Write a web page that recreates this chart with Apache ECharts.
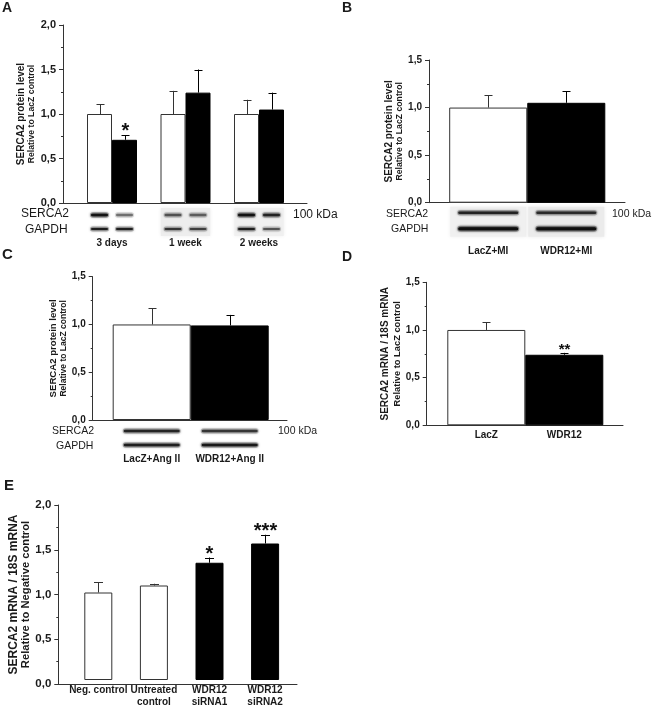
<!DOCTYPE html>
<html><head><meta charset="utf-8">
<script src="https://cdn.jsdelivr.net/npm/echarts@6/dist/echarts.min.js"></script>
<style>html,body{margin:0;padding:0;background:#fff}#c{width:653px;height:708px}</style>
</head><body><div id="c"></div>
<script>
// ---------------- DATA ----------------
// Panel A: SERCA2 protein, 3 days / 1 week / 2 weeks
const aCategories = ['3 days', '1 week', '2 weeks'];
const aLacZ = [1.00, 1.00, 1.00];
const aLacZErr = [0.11, 0.26, 0.16];
const aWDR12 = [0.71, 1.24, 1.05];
const aWDR12Err = [0.05, 0.26, 0.19];
const aWDR12Sig = ['*', '', ''];
const aTicks = [0, 0.5, 1.0, 1.5, 2.0];
const aTickLabels = ['0,0', '0,5', '1,0', '1,5', '2,0'];
// western blot band intensities [lane LacZ, lane WDR12] per category
const aBlotSerca = [[0.95, 0.45], [0.55, 0.5], [0.95, 0.8]];
const aBlotGapdh = [[0.85, 0.85], [0.7, 0.65], [0.85, 0.55]];
const aBlotBg = [0.0, 0.07, 0.06];

// Panel B: LacZ+MI vs WDR12+MI
const bCategories = ['LacZ+MI', 'WDR12+MI'];
const bValues = [1.00, 1.05];
const bErr = [0.13, 0.12];
const bSig = ['', ''];
const bTicks = [0, 0.5, 1.0, 1.5];
const bTickLabels = ['0,0', '0,5', '1,0', '1,5'];
const bBlotSerca = [[0.8], [0.75]];
const bBlotGapdh = [[1.0], [1.0]];
const bBlotBg = [0.06, 0.08];

// Panel C: LacZ+Ang II vs WDR12+Ang II
const cCategories = ['LacZ+Ang II', 'WDR12+Ang II'];
const cValues = [1.00, 0.99];
const cErr = [0.17, 0.11];
const cSig = ['', ''];
const cTicks = [0, 0.5, 1.0, 1.5];
const cTickLabels = ['0,0', '0,5', '1,0', '1,5'];
const cBlotSerca = [[0.8], [0.7]];
const cBlotGapdh = [[0.85], [0.9]];
const cBlotBg = [0.0, 0.0];

// Panel D: SERCA2 mRNA LacZ vs WDR12
const dCategories = ['LacZ', 'WDR12'];
const dValues = [1.00, 0.74];
const dErr = [0.08, 0.02];
const dSig = ['', '**'];
const dTicks = [0, 0.5, 1.0, 1.5];
const dTickLabels = ['0,0', '0,5', '1,0', '1,5'];

// Panel E: siRNA knock-down
const eCategories = ['Neg. control', 'Untreated\ncontrol', 'WDR12\nsiRNA1', 'WDR12\nsiRNA2'];
const eValues = [1.00, 1.08, 1.34, 1.56];
const eErr = [0.12, 0.02, 0.06, 0.10];
const eSig = ['', '', '*', '***'];
const eIsKnockdown = [false, false, true, true];
const eTicks = [0, 0.5, 1.0, 1.5, 2.0];
const eTickLabels = ['0,0', '0,5', '1,0', '1,5', '2,0'];

// ---------------- STYLE / LAYOUT ----------------
const FONT = '"Liberation Sans", Arial, Helvetica, sans-serif';
const AX = '#333';
const TXT = '#1a1a1a';
const WHITE = {color: '#ffffff', borderColor: AX, borderWidth: 1};
const BLACK = {color: '#000000', borderColor: '#000000', borderWidth: 1};

const grid = [], xAxis = [], yAxis = [], series = [], graphic = [];

function addPanel(p) {
  const fi = grid.length, di = fi + 1;
  const h = p.bottom - p.top;
  const tmin = p.ticks[0], tmax = p.ticks[p.ticks.length - 1];
  grid.push({left: p.axisX, top: p.top, width: p.axisEnd - p.axisX, height: h});
  grid.push({left: p.dataL, top: p.top, width: p.dataR - p.dataL, height: h});
  xAxis.push({gridIndex: fi, type: 'value', min: 0, max: 1,
    axisLine: {show: true, onZero: false, lineStyle: {color: AX, width: 1}},
    axisTick: {show: false}, axisLabel: {show: false}, splitLine: {show: false}});
  yAxis.push({gridIndex: fi, type: 'value', min: tmin, max: tmax, interval: p.ticks[1] - p.ticks[0],
    axisLine: {show: true, lineStyle: {color: AX, width: 1}},
    axisTick: {show: true, length: 4, lineStyle: {color: AX, width: 1}},
    minorTick: {show: true, splitNumber: 2, length: 2, lineStyle: {color: AX, width: 1}},
    splitLine: {show: false}, minorSplitLine: {show: false},
    axisLabel: {margin: p.tickMargin, fontFamily: FONT, fontWeight: 'bold', fontSize: p.tickFont, color: TXT,
      formatter: v => { const i = p.ticks.findIndex(t => Math.abs(t - v) < 1e-9); return i >= 0 ? p.tickLabels[i] : ''; }},
    name: '{a|' + p.yName[0] + '}\n{b|' + p.yName[1] + '}',
    nameLocation: 'middle', nameRotate: 90, nameGap: p.nameGap,
    nameTextStyle: {fontFamily: FONT, rich: {
      a: {fontFamily: FONT, fontWeight: 'bold', fontSize: p.nameFont[0], lineHeight: p.nameLH[0], color: TXT},
      b: {fontFamily: FONT, fontWeight: 'bold', fontSize: p.nameFont[1], lineHeight: p.nameLH[1], color: TXT}}}
  });
  xAxis.push({gridIndex: di, type: 'category', data: p.categories,
    axisLine: {show: false}, axisTick: {show: false}, splitLine: {show: false},
    axisLabel: {interval: 0, margin: p.catMargin, fontFamily: FONT, fontWeight: 'bold', fontSize: p.catFont,
      lineHeight: p.catLH, color: TXT}});
  yAxis.push({gridIndex: di, type: 'value', min: tmin, max: tmax, show: false});
  return di;
}

function addBars(di, name, values, styleFn, barOpts) {
  series.push(Object.assign({
    type: 'bar', name: name, xAxisIndex: di, yAxisIndex: di, silent: true, z: 2,
    data: values.map((v, i) => ({value: v, itemStyle: styleFn(i)}))
  }, barOpts));
}

function addErrors(di, values, errs, sigs, cfg) {
  series.push({
    type: 'custom', xAxisIndex: di, yAxisIndex: di, silent: true, z: 4, clip: false,
    data: values.map((v, i) => [i, v, errs[i]]),
    renderItem: (params, api) => {
      const i = params.dataIndex;
      const x = api.value(0), v = api.value(1), e = api.value(2);
      const b = api.coord([x, v]), t = api.coord([x, v + e]);
      const cx = Math.round(b[0] + cfg.offset) + 0.5;
      const col = cfg.color(i);
      const children = [
        {type: 'line', shape: {x1: cx, y1: b[1], x2: cx, y2: t[1]}, style: {stroke: col, lineWidth: 1}},
        {type: 'line', shape: {x1: cx - cfg.cap / 2, y1: Math.round(t[1]) + 0.5, x2: cx + cfg.cap / 2, y2: Math.round(t[1]) + 0.5},
          style: {stroke: col, lineWidth: 1}}
      ];
      const s = sigs ? sigs[i] : '';
      if (s) {
        children.push({type: 'text', style: {text: s, x: cx, y: t[1] - cfg.starGap, align: 'center', verticalAlign: 'middle',
          fontFamily: FONT, fontWeight: 'bold', fontSize: cfg.starFont, fill: '#111'}});
      }
      return {type: 'group', children: children};
    }
  });
}

function addBlots(di, serca, gapdh, bg, cfg) {
  // membrane background per category
  series.push({
    type: 'custom', xAxisIndex: di, yAxisIndex: di, silent: true, z: 1, clip: false,
    data: bg.map((s, i) => [i, s]),
    renderItem: (params, api) => {
      const s = api.value(1);
      const c = api.coord([api.value(0), 0]);
      const w = api.size([1, 0])[0] * cfg.bgFrac;
      if (s <= 0) return {type: 'group', children: []};
      const g = Math.round(255 - 255 * s);
      const col = 'rgb(' + g + ',' + g + ',' + g + ')';
      return {type: 'rect', shape: {x: c[0] - w / 2 + 1, y: c[1] + cfg.bgTop, width: w - 2, height: cfg.bgH},
        style: {fill: col, shadowBlur: 4, shadowColor: col}};
    }
  });
  const items = [];
  serca.forEach((lanes, ci) => lanes.forEach((I, li) => items.push([ci, li, I, 0])));
  gapdh.forEach((lanes, ci) => lanes.forEach((I, li) => items.push([ci, li, I, 1])));
  series.push({
    type: 'custom', xAxisIndex: di, yAxisIndex: di, silent: true, z: 2, clip: false,
    data: items,
    renderItem: (params, api) => {
      const ci = api.value(0), li = api.value(1), I = api.value(2), row = api.value(3);
      const c = api.coord([ci, 0]);
      const cx = c[0] + cfg.laneOffsets[li];
      const cy = c[1] + cfg.rowY[row];
      const w = cfg.bandW, hh = cfg.bandH[row];
      const col = 'rgba(15,15,15,' + I + ')';
      const halo = 'rgba(40,40,40,' + (I * 0.35) + ')';
      return {type: 'group', children: [
        {type: 'rect', shape: {x: cx - w / 2 - 1, y: cy - hh / 2 - 1.5, width: w + 2, height: hh + 3, r: (hh + 3) / 2},
          style: {fill: halo, shadowBlur: 3, shadowColor: halo}},
        {type: 'rect', shape: {x: cx - w / 2, y: cy - hh / 2, width: w, height: hh, r: hh / 2},
          style: {fill: col, shadowBlur: cfg.blur, shadowColor: col}}
      ]};
    }
  });
}

function txt(text, x, y, size, weight, align) {
  graphic.push({type: 'text', x: x, y: y, silent: true,
    style: {text: text, fontFamily: FONT, fontSize: size, fontWeight: weight || 'normal', fill: TXT,
      align: align || 'left', verticalAlign: 'middle'}});
}

// ---------- Panel A ----------
const aDi = addPanel({axisX: 63, axisEnd: 307, top: 25, bottom: 203, dataL: 75.25, dataR: 295.75,
  ticks: aTicks, tickLabels: aTickLabels, tickFont: 11, tickMargin: 7,
  yName: ['SERCA2 protein level', 'Relative to LacZ control'], nameFont: [10, 8.7], nameLH: [11, 10], nameGap: 26,
  categories: aCategories, catMargin: 35, catFont: 10, catLH: 11});
addBars(aDi, 'LacZ', aLacZ, () => WHITE, {barWidth: 25, barGap: '0%'});
addBars(aDi, 'WDR12', aWDR12, () => BLACK, {barWidth: 25, barGap: '0%'});
addErrors(aDi, aLacZ, aLacZErr, null, {offset: -12.5, cap: 8, color: () => AX});
addErrors(aDi, aWDR12, aWDR12Err, aWDR12Sig, {offset: 12.5, cap: 8, color: () => '#000', starGap: 4, starFont: 20});
addBlots(aDi, aBlotSerca, aBlotGapdh, aBlotBg, {laneOffsets: [-12.5, 12.5], rowY: [12, 26], bandW: 17, bandH: [2.5, 2],
  blur: 3, bgFrac: 0.7, bgTop: 5, bgH: 28});

// ---------- Panel B ----------
const bDi = addPanel({axisX: 429, axisEnd: 625, top: 60, bottom: 202.7, dataL: 449.2, dataR: 605.3,
  ticks: bTicks, tickLabels: bTickLabels, tickFont: 10, tickMargin: 7,
  yName: ['SERCA2 protein level', 'Relative to LacZ control'], nameFont: [10, 8.7], nameLH: [11, 10], nameGap: 22,
  categories: bCategories, catMargin: 43, catFont: 10, catLH: 11});
addBars(bDi, 'MI', bValues, i => (i === 0 ? WHITE : BLACK), {barCategoryGap: '0%'});
addErrors(bDi, bValues, bErr, bSig, {offset: 0, cap: 8, color: i => (i === 0 ? AX : '#000'), starGap: 4, starFont: 15});
addBlots(bDi, bBlotSerca, bBlotGapdh, bBlotBg, {laneOffsets: [0], rowY: [10, 26], bandW: 60, bandH: [2.5, 3],
  blur: 3, bgFrac: 1.0, bgTop: 4, bgH: 30});

// ---------- Panel C ----------
const cDi = addPanel({axisX: 92.7, axisEnd: 287, top: 276.7, bottom: 420, dataL: 112.7, dataR: 268.7,
  ticks: cTicks, tickLabels: cTickLabels, tickFont: 10, tickMargin: 7,
  yName: ['SERCA2 protein level', 'Relative to LacZ control'], nameFont: [9.6, 8.5], nameLH: [11, 10], nameGap: 19,
  categories: cCategories, catMargin: 34, catFont: 10, catLH: 11});
addBars(cDi, 'AngII', cValues, i => (i === 0 ? WHITE : BLACK), {barCategoryGap: '0%'});
addErrors(cDi, cValues, cErr, cSig, {offset: 0, cap: 8, color: i => (i === 0 ? AX : '#000'), starGap: 4, starFont: 15});
addBlots(cDi, cBlotSerca, cBlotGapdh, cBlotBg, {laneOffsets: [0], rowY: [11, 25], bandW: 56, bandH: [2.5, 2.5],
  blur: 3, bgFrac: 0.95, bgTop: 4, bgH: 28});

// ---------- Panel D ----------
const dDi = addPanel({axisX: 426.7, axisEnd: 623, top: 282.3, bottom: 425.3, dataL: 447.3, dataR: 603.3,
  ticks: dTicks, tickLabels: dTickLabels, tickFont: 10, tickMargin: 7,
  yName: ['SERCA2 mRNA / 18S mRNA', 'Relative to LacZ control'], nameFont: [10, 9.3], nameLH: [13, 12], nameGap: 13,
  categories: dCategories, catMargin: 4, catFont: 10, catLH: 11});
addBars(dDi, 'mRNA', dValues, i => (i === 0 ? WHITE : BLACK), {barCategoryGap: '0%'});
addErrors(dDi, dValues, dErr, dSig, {offset: 0, cap: 8, color: i => (i === 0 ? AX : '#000'), starGap: 3, starFont: 15});

// ---------- Panel E ----------
const eDi = addPanel({axisX: 58.3, axisEnd: 297, top: 505, bottom: 684, dataL: 70.5, dataR: 292.9,
  ticks: eTicks, tickLabels: eTickLabels, tickFont: 11.5, tickMargin: 7,
  yName: ['SERCA2 mRNA / 18S mRNA', 'Relative to Negative control'], nameFont: [12, 11.2], nameLH: [13, 12], nameGap: 22,
  categories: eCategories, catMargin: 4, catFont: 10, catLH: 12});
addBars(eDi, 'siRNA', eValues, i => (eIsKnockdown[i] ? BLACK : WHITE), {barWidth: 28});
addErrors(eDi, eValues, eErr, eSig, {offset: 0, cap: 9, color: i => (eIsKnockdown[i] ? '#000' : AX), starGap: 3, starFont: 20});

// ---------- text annotations ----------
txt('A', 2, 8, 14, 'bold');
txt('B', 342, 8, 14, 'bold');
txt('C', 2, 255, 15, 'bold');
txt('D', 342, 257, 14, 'bold');
txt('E', 4, 486, 15, 'bold');
txt('SERCA2', 21, 214, 12);
txt('GAPDH', 25, 230, 12);
txt('100 kDa', 293, 215, 12);
txt('SERCA2', 386, 214, 10.5);
txt('GAPDH', 391, 229, 10.5);
txt('100 kDa', 612, 214, 10.5);
txt('SERCA2', 52, 431, 10.5);
txt('GAPDH', 56, 446, 10.5);
txt('100 kDa', 278, 431, 10.5);

const chart = echarts.init(document.getElementById('c'), null, {renderer: 'canvas'});
chart.setOption({
  animation: false,
  backgroundColor: '#ffffff',
  textStyle: {fontFamily: FONT},
  grid: grid, xAxis: xAxis, yAxis: yAxis, series: series, graphic: graphic
});
</script></body></html>
